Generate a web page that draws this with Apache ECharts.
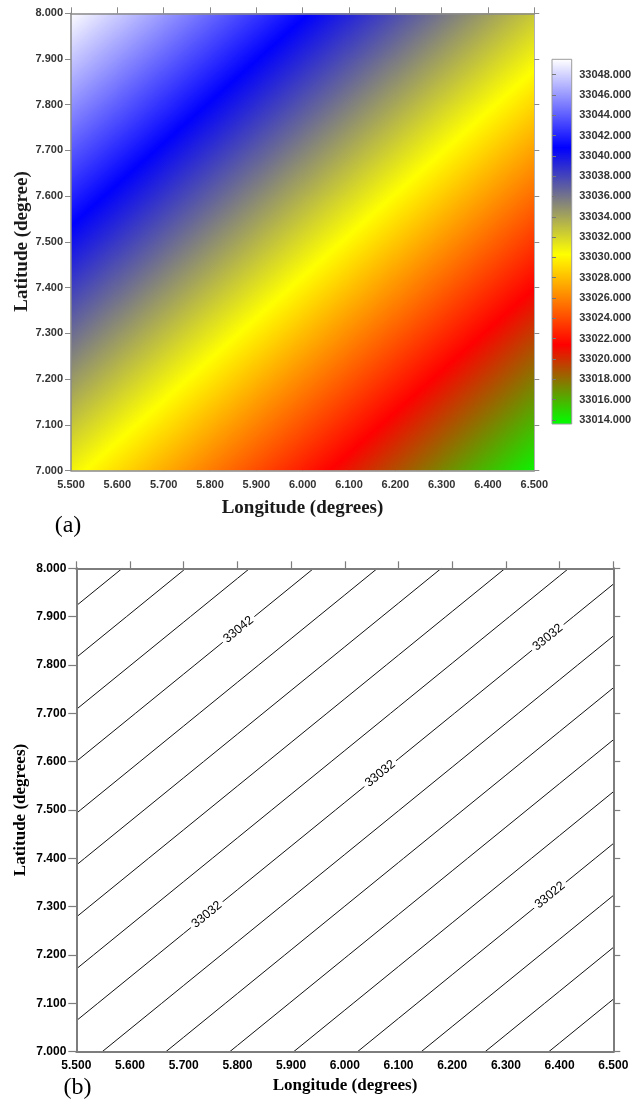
<!DOCTYPE html>
<html>
<head>
<meta charset="utf-8">
<script src="https://cdn.jsdelivr.net/npm/echarts@6.0.0/dist/echarts.min.js"></script>
<style>
  html, body { margin: 0; padding: 0; background: #ffffff; }
  #chart { width: 644px; height: 1101px; }
</style>
</head>
<body>
<div id="chart"></div>
<script>
// Grid nodes of the gravity field (degrees)
const longitudes = [5.5, 5.6, 5.7, 5.8, 5.9, 6.0, 6.1, 6.2, 6.3, 6.4, 6.5];
const latitudes = [8.0, 7.9, 7.8, 7.7, 7.6, 7.5, 7.4, 7.3, 7.2, 7.1, 7.0];

// gravityRows[r][c] : value at latitudes[r], longitudes[c]
const gravityRows = [
  [33049.44, 33047.76, 33046.07, 33044.39, 33042.71, 33041.03, 33039.34, 33037.66, 33035.98, 33034.29, 33032.61],
  [33047.58, 33045.89, 33044.21, 33042.53, 33040.85, 33039.16, 33037.48, 33035.80, 33034.11, 33032.43, 33030.75],
  [33045.71, 33044.03, 33042.35, 33040.67, 33038.98, 33037.30, 33035.62, 33033.93, 33032.25, 33030.57, 33028.88],
  [33043.85, 33042.17, 33040.49, 33038.80, 33037.12, 33035.44, 33033.75, 33032.07, 33030.39, 33028.70, 33027.02],
  [33041.99, 33040.31, 33038.62, 33036.94, 33035.26, 33033.57, 33031.89, 33030.21, 33028.52, 33026.84, 33025.16],
  [33040.13, 33038.44, 33036.76, 33035.08, 33033.39, 33031.71, 33030.03, 33028.34, 33026.66, 33024.98, 33023.30],
  [33038.26, 33036.58, 33034.90, 33033.21, 33031.53, 33029.85, 33028.16, 33026.48, 33024.80, 33023.12, 33021.43],
  [33036.40, 33034.72, 33033.03, 33031.35, 33029.67, 33027.98, 33026.30, 33024.62, 33022.94, 33021.25, 33019.57],
  [33034.54, 33032.85, 33031.17, 33029.49, 33027.80, 33026.12, 33024.44, 33022.76, 33021.07, 33019.39, 33017.71],
  [33032.67, 33030.99, 33029.31, 33027.62, 33025.94, 33024.26, 33022.58, 33020.89, 33019.21, 33017.53, 33015.84],
  [33030.81, 33029.13, 33027.44, 33025.76, 33024.08, 33022.40, 33020.71, 33019.03, 33017.35, 33015.66, 33013.98]
];

// Contour levels (interval 2)
const contourLevels = [33016, 33018, 33020, 33022, 33024, 33026, 33028, 33030, 33032,
                       33034, 33036, 33038, 33040, 33042, 33044, 33046, 33048];

// Colour scale
const colorbarRange = [33013.6, 33049.5];
const colorbarTicks = [33014, 33016, 33018, 33020, 33022, 33024, 33026, 33028, 33030,
                       33032, 33034, 33036, 33038, 33040, 33042, 33044, 33046, 33048];
const paletteValues = [33013.6, 33021.4, 33030.3, 33040.8, 33049.5];
const paletteColors = ['#00ff00', '#ff0000', '#ffff00', '#0000ff', '#ffffff'];

// Where contour values are written: [longitude, level]
const contourLabelPlaces = [[5.802, 33042], [5.743, 33032], [6.066, 33032], [6.378, 33032], [6.382, 33022]];

// ---------- colour helpers ----------
function hexToRgb(h) { return [1, 3, 5].map(i => parseInt(h.slice(i, i + 2), 16)); }
const paletteRgb = paletteColors.map(hexToRgb);
function rgbString(c) { return 'rgb(' + c.map(x => Math.round(x)).join(',') + ')'; }
function colorAt(v) {
  if (v <= paletteValues[0]) return rgbString(paletteRgb[0]);
  for (let k = 1; k < paletteValues.length; k++) {
    if (v <= paletteValues[k]) {
      const t = (v - paletteValues[k - 1]) / (paletteValues[k] - paletteValues[k - 1]);
      const a = paletteRgb[k - 1], b = paletteRgb[k];
      return rgbString([0, 1, 2].map(i => a[i] + (b[i] - a[i]) * t));
    }
  }
  return rgbString(paletteRgb[paletteRgb.length - 1]);
}
function stopsBetween(v0, v1) {
  const lo = Math.min(v0, v1), hi = Math.max(v0, v1);
  const stops = [{ offset: 0, color: colorAt(v0) }, { offset: 1, color: colorAt(v1) }];
  paletteValues.forEach(p => {
    if (p > lo && p < hi) stops.push({ offset: (p - v0) / (v1 - v0), color: colorAt(p) });
  });
  stops.sort((a, b) => a.offset - b.offset);
  return stops;
}

// ---------- heat map cells ----------
const cellData = [];
for (let r = 0; r < latitudes.length - 1; r++) {
  for (let c = 0; c < longitudes.length - 1; c++) {
    cellData.push([
      longitudes[c], latitudes[r + 1], longitudes[c + 1], latitudes[r],
      gravityRows[r + 1][c], gravityRows[r + 1][c + 1], gravityRows[r][c], gravityRows[r][c + 1]
    ]);
  }
}

function renderCell(params, api) {
  const pA = api.coord([api.value(0), api.value(1)]);   // lower-left
  const pB = api.coord([api.value(2), api.value(3)]);   // upper-right
  const v00 = api.value(4), v10 = api.value(5), v01 = api.value(6), v11 = api.value(7);
  const x0 = pA[0], x1 = pB[0], yb = pA[1], yt = pB[1];
  const w = x1 - x0, h = yb - yt;
  const gx = ((v10 - v00) + (v11 - v01)) / 2 / w;
  const gy = -((v01 - v00) + (v11 - v10)) / 2 / h;   // screen y grows downward
  const gm = Math.hypot(gx, gy) || 1e-9;
  const ux = gx / gm, uy = gy / gm;
  const L = (Math.abs(ux) * w + Math.abs(uy) * h) / 2;
  const cx = (x0 + x1) / 2, cy = (yb + yt) / 2;
  const vc = (v00 + v10 + v01 + v11) / 4;
  const fill = new echarts.graphic.LinearGradient(
    cx - ux * L, cy - uy * L, cx + ux * L, cy + uy * L,
    stopsBetween(vc - gm * L, vc + gm * L), true);
  return {
    type: 'rect',
    shape: { x: x0 - 0.5, y: yt - 0.5, width: w + 1, height: h + 1 },
    style: { fill: fill }
  };
}

function renderColorbar(params, api) {
  const a = api.coord([api.value(0), api.value(1)]);
  const b = api.coord([api.value(2), api.value(3)]);
  const fill = new echarts.graphic.LinearGradient(0, a[1], 0, b[1],
    stopsBetween(api.value(1), api.value(3)), true);
  return {
    type: 'rect',
    shape: { x: a[0], y: b[1], width: b[0] - a[0], height: a[1] - b[1] },
    style: { fill: fill, stroke: '#9c9c9c', lineWidth: 1 }
  };
}

// ---------- contours (crossings of grid edges) ----------
function traceContour(level) {
  const pts = [];
  const nr = latitudes.length, nc = longitudes.length;
  for (let r = 0; r < nr; r++) {
    for (let c = 0; c < nc - 1; c++) {
      const a = gravityRows[r][c], b = gravityRows[r][c + 1];
      if (a !== b && (a - level) * (b - level) <= 0) {
        const t = (level - a) / (b - a);
        pts.push([longitudes[c] + t * (longitudes[c + 1] - longitudes[c]), latitudes[r]]);
      }
    }
  }
  for (let c = 0; c < nc; c++) {
    for (let r = 0; r < nr - 1; r++) {
      const a = gravityRows[r][c], b = gravityRows[r + 1][c];
      if (a !== b && (a - level) * (b - level) <= 0) {
        const t = (level - a) / (b - a);
        pts.push([longitudes[c], latitudes[r] + t * (latitudes[r + 1] - latitudes[r])]);
      }
    }
  }
  pts.sort((p, q) => (p[0] - q[0]) || (p[1] - q[1]));
  const out = [];
  pts.forEach(p => {
    const last = out[out.length - 1];
    if (!last || Math.abs(last[0] - p[0]) > 1e-9 || Math.abs(last[1] - p[1]) > 1e-9) out.push(p);
  });
  return out;
}
const contourPaths = {};
contourLevels.forEach(l => { contourPaths[l] = traceContour(l); });

function renderContourLabel(params, api) {
  const lon = api.value(0), level = api.value(1);
  const path = contourPaths[level];
  let k = 0;
  while (k < path.length - 2 && path[k + 1][0] < lon) k++;
  const s = path[k], e = path[k + 1];
  const t = (lon - s[0]) / (e[0] - s[0]);
  const lat = s[1] + t * (e[1] - s[1]);
  const p = api.coord([lon, lat]);
  const ps = api.coord(s), pe = api.coord(e);
  const angle = Math.atan2(-(pe[1] - ps[1]), pe[0] - ps[0]);
  return {
    type: 'text',
    x: p[0], y: p[1], rotation: angle,
    style: {
      text: String(level),
      fill: '#000000',
      font: '12.5px "Liberation Sans", Arial, sans-serif',
      align: 'center', verticalAlign: 'middle',
      textAlign: 'center', textVerticalAlign: 'middle',
      backgroundColor: '#ffffff',
      padding: [0, 3]
    }
  };
}

// ---------- axes ----------
const fix3 = v => v.toFixed(3);
const axisGreyA = '#8a8a8a';
const axisGreyB = '#7d7d7d';
const sansA = { fontFamily: '"Liberation Sans", Arial, sans-serif', fontWeight: 'bold', fontSize: 11, color: '#333333' };
const sansB = { fontFamily: '"Liberation Sans", Arial, sans-serif', fontWeight: 'bold', fontSize: 12, color: '#000000' };

function valueAxis(opts) {
  return Object.assign({
    type: 'value', z: 10, splitLine: { show: false }, scale: true
  }, opts);
}

const chart = echarts.init(document.getElementById('chart'), null, { renderer: 'canvas' });

chart.setOption({
  animation: false,
  backgroundColor: '#ffffff',
  grid: [
    { left: 71, top: 13.3, width: 463.3, height: 457.2 },
    { left: 552, top: 59.3, width: 19.7, height: 364.7 },
    { left: 76.3, top: 568.3, width: 537, height: 483.4 }
  ],
  xAxis: [
    valueAxis({ gridIndex: 0, position: 'bottom', min: 5.5, max: 6.5, interval: 0.1,
      axisLine: { lineStyle: { color: axisGreyA, width: 1.5 } },
      axisTick: { show: false },
      axisLabel: Object.assign({ formatter: fix3, margin: 9 }, sansA) }),
    valueAxis({ gridIndex: 0, position: 'top', min: 5.5, max: 6.5, interval: 0.1,
      axisLine: { lineStyle: { color: axisGreyA, width: 1.5 } },
      axisTick: { length: 6, lineStyle: { color: axisGreyA, width: 1 } },
      axisLabel: { show: false } }),
    valueAxis({ gridIndex: 1, min: 0, max: 1, show: false }),
    valueAxis({ gridIndex: 2, position: 'bottom', min: 5.5, max: 6.5, interval: 0.1,
      axisLine: { lineStyle: { color: axisGreyB, width: 2 } },
      axisTick: { show: false },
      axisLabel: Object.assign({ formatter: fix3, margin: 8 }, sansB) }),
    valueAxis({ gridIndex: 2, position: 'top', min: 5.5, max: 6.5, interval: 0.1,
      axisLine: { lineStyle: { color: axisGreyB, width: 2 } },
      axisTick: { length: 7, lineStyle: { color: axisGreyB, width: 1.2 } },
      axisLabel: { show: false } })
  ],
  yAxis: [
    valueAxis({ gridIndex: 0, position: 'left', min: 7, max: 8, interval: 0.1,
      axisLine: { lineStyle: { color: axisGreyA, width: 1.5 } },
      axisTick: { length: 6, lineStyle: { color: axisGreyA, width: 1 } },
      axisLabel: Object.assign({ formatter: fix3, margin: 8 }, sansA) }),
    valueAxis({ gridIndex: 0, position: 'right', min: 7, max: 8, interval: 0.1,
      axisLine: { lineStyle: { color: '#b0b0b0', width: 1 } },
      axisTick: { length: 5, lineStyle: { color: axisGreyA, width: 1 } },
      axisLabel: { show: false } }),
    valueAxis({ gridIndex: 1, position: 'right', min: colorbarRange[0], max: colorbarRange[1],
      axisLine: { show: false },
      axisTick: { customValues: colorbarTicks, length: 4, lineStyle: { color: '#777777', width: 1 } },
      axisLabel: Object.assign({ customValues: colorbarTicks, formatter: fix3, margin: 7.5 }, sansA) }),
    valueAxis({ gridIndex: 2, position: 'left', min: 7, max: 8, interval: 0.1,
      axisLine: { lineStyle: { color: axisGreyB, width: 2 } },
      axisTick: { length: 8, lineStyle: { color: axisGreyB, width: 1.2 } },
      axisLabel: Object.assign({ formatter: fix3, margin: 10 }, sansB) }),
    valueAxis({ gridIndex: 2, position: 'right', min: 7, max: 8, interval: 0.1,
      axisLine: { lineStyle: { color: axisGreyB, width: 2 } },
      axisTick: { length: 7, lineStyle: { color: axisGreyB, width: 1.2 } },
      axisLabel: { show: false } })
  ],
  graphic: [
    { type: 'text', x: 22, y: 241.5, rotation: Math.PI / 2,
      style: { text: 'Latitude (degree)', font: 'bold 19px "Liberation Serif", "Times New Roman", serif',
        fill: '#1a1a1a', align: 'center', verticalAlign: 'middle', textAlign: 'center', textVerticalAlign: 'middle' } },
    { type: 'text', x: 302.5, y: 508,
      style: { text: 'Longitude (degrees)', font: 'bold 19px "Liberation Serif", "Times New Roman", serif',
        fill: '#1a1a1a', align: 'center', verticalAlign: 'middle', textAlign: 'center', textVerticalAlign: 'middle' } },
    { type: 'text', x: 68, y: 526,
      style: { text: '(a)', font: '24px "Liberation Serif", "Times New Roman", serif',
        fill: '#000000', align: 'center', verticalAlign: 'middle', textAlign: 'center', textVerticalAlign: 'middle' } },
    { type: 'text', x: 21, y: 810, rotation: Math.PI / 2,
      style: { text: 'Latitude (degrees)', font: 'bold 17px "Liberation Serif", "Times New Roman", serif',
        fill: '#000000', align: 'center', verticalAlign: 'middle', textAlign: 'center', textVerticalAlign: 'middle' } },
    { type: 'text', x: 345, y: 1086,
      style: { text: 'Longitude (degrees)', font: 'bold 17px "Liberation Serif", "Times New Roman", serif',
        fill: '#000000', align: 'center', verticalAlign: 'middle', textAlign: 'center', textVerticalAlign: 'middle' } },
    { type: 'text', x: 77.5, y: 1088,
      style: { text: '(b)', font: '24px "Liberation Serif", "Times New Roman", serif',
        fill: '#000000', align: 'center', verticalAlign: 'middle', textAlign: 'center', textVerticalAlign: 'middle' } }
  ],
  series: [
    { type: 'custom', name: 'Gravity', xAxisIndex: 0, yAxisIndex: 0, data: cellData,
      renderItem: renderCell, clip: true, silent: true, z: 1 },
    { type: 'custom', name: 'Scale', xAxisIndex: 2, yAxisIndex: 2,
      data: [[0, colorbarRange[0], 1, colorbarRange[1]]],
      renderItem: renderColorbar, silent: true, z: 1 }
  ].concat(contourLevels.map(level => ({
    type: 'line', name: String(level), xAxisIndex: 3, yAxisIndex: 3,
    data: contourPaths[level], symbol: 'none', showSymbol: false, clip: true, silent: true, z: 2,
    lineStyle: { color: '#111111', width: 1 }
  }))).concat([
    { type: 'custom', name: 'Contour labels', xAxisIndex: 3, yAxisIndex: 3, data: contourLabelPlaces,
      renderItem: renderContourLabel, silent: true, z: 4 }
  ])
});
</script>
</body>
</html>
